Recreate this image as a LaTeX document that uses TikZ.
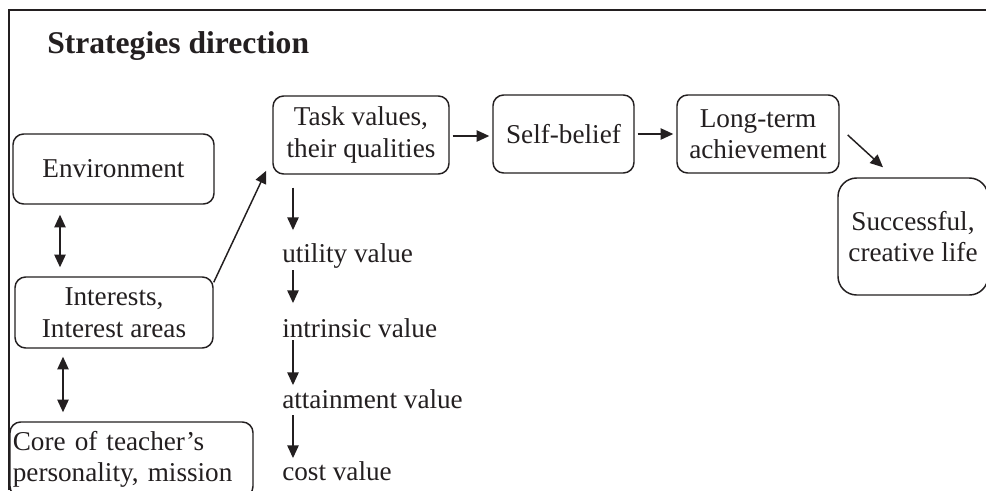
\documentclass[tikz,border=0pt]{standalone}
\usepackage{fontspec}
\setmainfont{Liberation Serif}
\usepackage{xcolor}
\usepackage{tikz}
\usetikzlibrary{arrows.meta,calc}
\definecolor{ink}{HTML}{231F20}
\definecolor{paper}{HTML}{FFFFFF}
\tikzset{
  sbox/.style={draw=ink, line width=1.1pt, rounded corners=8pt, align=center, inner sep=2pt, text=ink, font=\fontsize{20.4}{23.6}\selectfont},
  vlab/.style={anchor=base west, inner sep=0pt, text height=14pt, text depth=4.5pt, text=ink, font=\fontsize{20.4}{23.6}\selectfont},
  arr/.style={draw=ink, line width=1.1pt, -{Triangle[length=9.5pt,width=8.5pt]}},
  darr/.style={draw=ink, line width=1.1pt, {Triangle[length=9.5pt,width=8.5pt]}-{Triangle[length=9.5pt,width=8.5pt]}},
  frame/.style={draw=ink, line width=1.7pt},
  ttl/.style={anchor=base west, inner sep=0pt, text=ink, font=\bfseries\fontsize{23.7}{28}\selectfont}
}

\begin{document}
\begin{tikzpicture}[x=0.75pt,y=-0.75pt]
  \useasboundingbox (0,0) rectangle (986,490);
  \fill[paper] (0,0) rectangle (986,490);
  \draw[frame] (9,490) -- (9,10) -- (986,10);

  \node[ttl] (title) at (47,53) {Strategies direction};

  % left column
  \node[sbox, minimum width=150.75pt, minimum height=52.5pt] (env) at (113.5,169) {Environment};
  \node[sbox, minimum width=148.5pt, minimum height=53.25pt] (ints) at (114,312.5) {Interests,\\Interest areas};
  \node[sbox, minimum width=182.25pt, minimum height=56.25pt, text width=178pt, align=left] (core) at (131.5,459.5) {Core of teacher’s\\personality, mission};

  % top row
  \node[sbox, minimum width=132pt, minimum height=58.5pt] (task) at (361,135) {Task values,\\their qualities};
  \node[sbox, minimum width=105.75pt, minimum height=58.5pt] (self) at (563.5,134) {Self-belief};
  \node[sbox, minimum width=121.5pt, minimum height=58.5pt] (long) at (758,134) {Long-term\\achievement};
  \node[sbox, rounded corners=14pt, minimum width=112.5pt, minimum height=87.75pt] (succ) at (913,236.5) {Successful,\\creative life};

  % values
  \node[vlab] (utility) at (282,262) {utility value};
  \node[vlab] (intrinsic) at (282,337) {intrinsic value};
  \node[vlab] (attain) at (282,408) {attainment value};
  \node[vlab] (cost) at (282,480) {cost value};

  \coordinate (ex) at (60,0);
  \coordinate (cx) at (63,0);
  \coordinate (vx) at (293,0);

  \draw[darr] ($(env.south -| ex)+(0,10)$) -- ($(ints.north -| ex)+(0,-9)$);
  \draw[darr] ($(ints.south -| cx)+(0,8)$) -- ($(core.north -| cx)+(0,-9)$);
  \draw[arr] ($(ints.north east)+(0,6)$) -- ($(task.south west)+(-6,-4)$);

  \draw[arr] ($(task.east)+(3,1)$) -- ($(self.west |- task.east)+(-3,1)$);
  \draw[arr] ($(self.east)+(3,0)$) -- ($(long.west)+(-3,0)$);
  \draw[arr] ($(long.east)+(8,1)$) -- ($(succ.north)+(-30,-10)$);

  \draw[arr] ($(task.south -| vx)+(0,13)$) -- ($(utility.north -| vx)+(0,-13)$);
  \draw[arr] ($(utility.south -| vx)+(0,2)$) -- ($(intrinsic.north -| vx)+(0,-15)$);
  \draw[arr] ($(intrinsic.south -| vx)+(0,-3)$) -- ($(attain.north -| vx)+(0,-4)$);
  \draw[arr] ($(attain.south -| vx)+(0,1)$) -- ($(cost.north -| vx)+(0,-3)$);
\end{tikzpicture}
\end{document}
